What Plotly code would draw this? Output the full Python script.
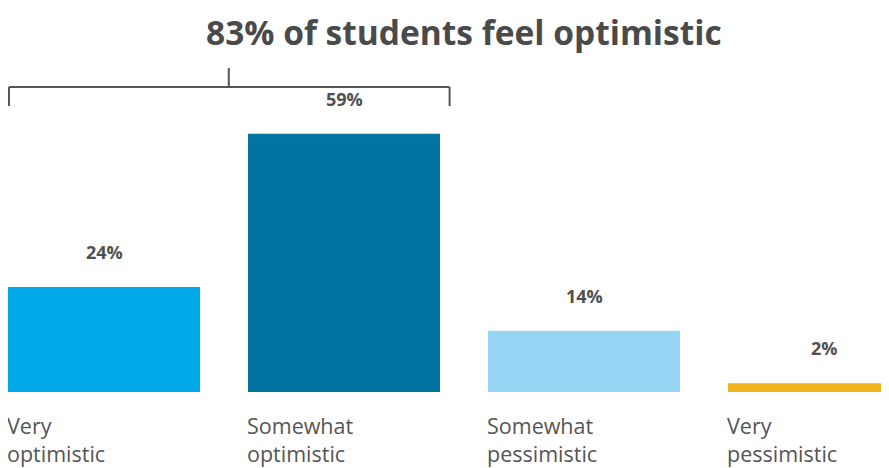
import plotly.graph_objects as go

categories = ["Very optimistic", "Somewhat optimistic", "Somewhat pessimistic", "Very pessimistic"]
label_line1 = ["Very", "Somewhat", "Somewhat", "Very"]
label_line2 = ["optimistic", "optimistic", "pessimistic", "pessimistic"]
values = [24, 59, 14, 2]
value_labels = ["24%", "59%", "14%", "2%"]
colors = ["#00A8E8", "#0073A0", "#97D5F5", "#F0B41E"]
title_text = "83% of students feel optimistic"

TEXT = "#505050"
FONT = "Open Sans"

# page body has an 8px margin; figure is sized to fit the window
W, H = 881, 460
BASE = 384          # baseline in figure px
K = 4.378           # px per percentage point
YMAX = BASE / K

xs = list(range(len(categories)))

fig = go.Figure(go.Bar(
    x=xs, y=values, marker_color=colors, width=0.8,
    marker_line_width=0, hoverinfo="skip",
))

ann = []
for i, (v, t) in enumerate(zip(values, value_labels)):
    ann.append(dict(x=i, y=v, xref="x", yref="y", text=t, showarrow=False,
                    yshift=35, font=dict(family=FONT, size=18, color=TEXT, weight=700)))
    ann.append(dict(x=i - 0.4, y=0, xref="x", yref="y", text=label_line1[i], showarrow=False,
                    xanchor="left", yanchor="middle", yshift=-33, xshift=-3,
                    font=dict(family=FONT, size=21.5, color="#555555")))
    ann.append(dict(x=i - 0.4, y=0, xref="x", yref="y", text=label_line2[i], showarrow=False,
                    xanchor="left", yanchor="middle", yshift=-61, xshift=-3,
                    font=dict(family=FONT, size=21.5, color="#555555")))

ann.append(dict(x=456 / W, xref="paper", y=1, yref="paper", yshift=1,
                text=title_text, showarrow=False, yanchor="top",
                font=dict(family=FONT, size=33.5, color="#4A4A4A", weight=700)))

def ypx(p):
    return (BASE - (p - 8)) / K
line = dict(color="#555555", width=2)
shapes = [
    dict(type="line", xref="x", yref="y", x0=-0.396, x1=1.44, y0=ypx(87), y1=ypx(87), line=line),
    dict(type="line", xref="x", yref="y", x0=-0.396, x1=-0.396, y0=ypx(87), y1=ypx(106), line=line),
    dict(type="line", xref="x", yref="y", x0=1.44, x1=1.44, y0=ypx(87), y1=ypx(106), line=line),
    dict(type="line", xref="x", yref="y", x0=0.52, x1=0.52, y0=ypx(87), y1=ypx(68), line=line),
]

fig.update_layout(
    width=W, height=H,
    margin=dict(l=0, r=0, t=0, b=H - BASE),
    paper_bgcolor="white", plot_bgcolor="white",
    showlegend=False,
    xaxis=dict(range=[-96 / 240, (W - 96) / 240], visible=False, fixedrange=True),
    yaxis=dict(range=[0, YMAX], visible=False, fixedrange=True),
    annotations=ann, shapes=shapes,
)

fig.write_html("out.html")
